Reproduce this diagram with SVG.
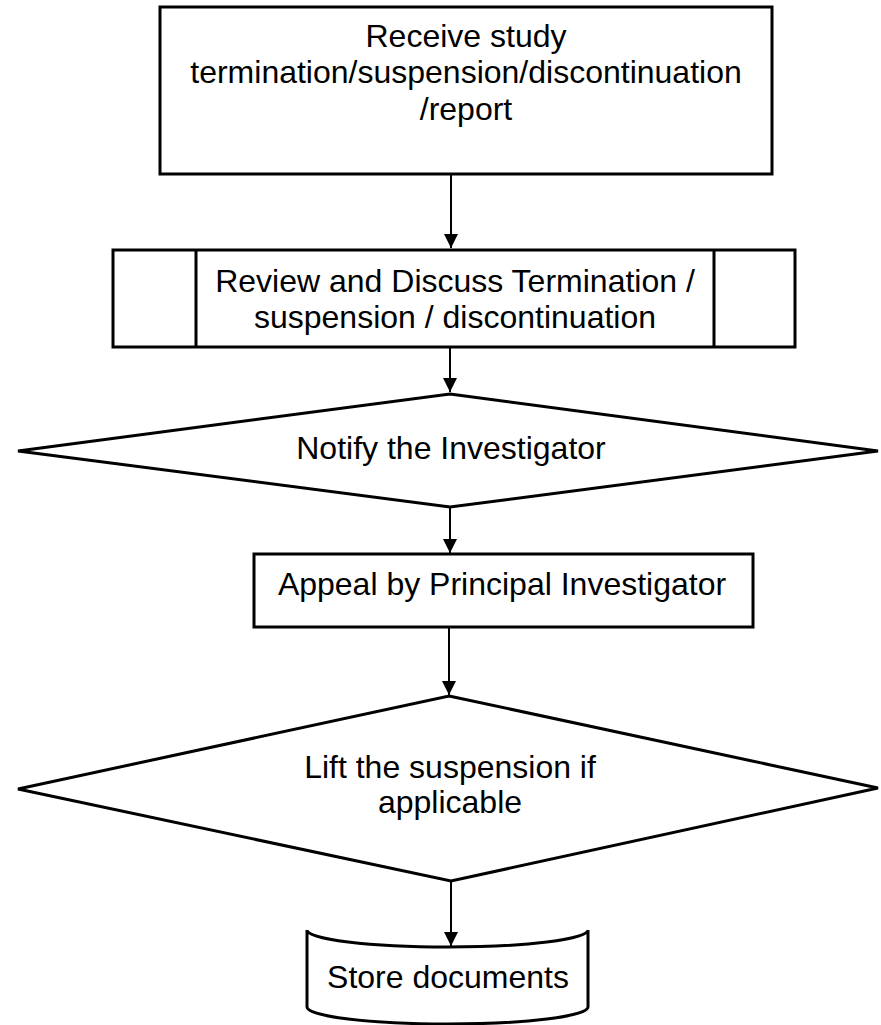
<svg xmlns="http://www.w3.org/2000/svg" width="881" height="1025" viewBox="0 0 881 1025">
<style>
.shape{fill:#fff;stroke:#000;stroke-width:3}
.conn{fill:none;stroke:#000;stroke-width:2}
.t{font-family:"Liberation Sans",Arial,sans-serif;font-size:32px;fill:#000;text-anchor:middle}
</style>
<defs>
<marker id="arr" markerUnits="userSpaceOnUse" markerWidth="14" markerHeight="14" refX="14" refY="7" orient="auto">
<path d="M0,0 L14,7 L0,14 z" fill="#000"/>
</marker>
</defs>
<rect width="881" height="1025" fill="#fff"/>
<g id="n1">
<rect class="shape" x="160" y="7" width="612" height="167"/>
<text class="t" x="466" y="47">Receive study</text>
<text class="t" x="466" y="83">termination/suspension/discontinuation</text>
<text class="t" x="466" y="120">/report</text>
</g>
<g id="n2">
<rect class="shape" x="113" y="250" width="682" height="97"/>
<line class="shape" x1="196" y1="250" x2="196" y2="347"/>
<line class="shape" x1="714" y1="250" x2="714" y2="347"/>
<text class="t" x="455" y="292">Review and Discuss Termination /</text>
<text class="t" x="455" y="328">suspension / discontinuation</text>
</g>
<g id="n3">
<polygon class="shape" points="450,394 878,451 450,507 18,451"/>
<text class="t" x="451" y="459">Notify the Investigator</text>
</g>
<g id="n4">
<rect class="shape" x="254" y="554" width="499" height="73"/>
<text class="t" x="502" y="595">Appeal by Principal Investigator</text>
</g>
<g id="n5">
<polygon class="shape" points="449,696 878,788 451,881 18,789"/>
<text class="t" x="450" y="778">Lift the suspension if</text>
<text class="t" x="450" y="813">applicable</text>
</g>
<g id="n6">
<path class="shape" d="M307,930 A140.5,17 0 0 0 588,930 L588,1007 A140.5,17 0 0 1 307,1007 Z"/>
<text class="t" x="448" y="988">Store documents</text>
</g>
<g id="connectors">
<line class="conn" x1="451" y1="174" x2="451" y2="248" marker-end="url(#arr)"/>
<line class="conn" x1="450" y1="347" x2="450" y2="392" marker-end="url(#arr)"/>
<line class="conn" x1="450" y1="507" x2="450" y2="553" marker-end="url(#arr)"/>
<line class="conn" x1="449" y1="627" x2="449" y2="695" marker-end="url(#arr)"/>
<line class="conn" x1="451" y1="881" x2="451" y2="946" marker-end="url(#arr)"/>
</g>
</svg>
